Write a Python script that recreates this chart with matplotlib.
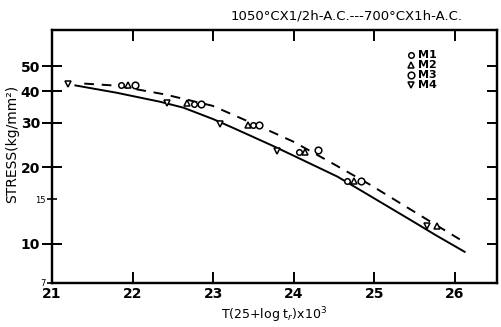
import matplotlib
matplotlib.use("Agg")
import matplotlib.pyplot as plt

# ---- data ----
m1_x = [21.86, 22.76, 23.50, 24.06, 24.66]
m1_y = [42.1, 35.6, 29.5, 23.1, 17.7]
m2_x = [21.94, 22.68, 23.43, 24.14, 24.75, 25.78]
m2_y = [42.1, 35.8, 29.5, 23.1, 17.7, 11.7]
m3_x = [22.03, 22.85, 23.57, 24.30, 24.84]
m3_y = [42.1, 35.6, 29.5, 23.4, 17.7]
m4_x = [21.20, 22.43, 23.08, 23.79, 25.65]
m4_y = [42.5, 35.9, 29.7, 23.2, 11.7]

solid_x = [21.29, 21.8, 22.34, 22.63, 23.0, 23.25, 23.73, 23.99, 24.54, 24.80, 25.50, 25.75, 26.12]
solid_y = [42.1, 39.4, 36.3, 34.4, 31.0, 28.6, 24.4, 22.3, 18.4, 16.45, 12.13, 10.86, 9.29]
dash_x = [21.4, 21.8, 22.4, 22.99, 23.62, 23.99, 24.45, 24.95, 25.65, 26.06]
dash_y = [42.8, 42.0, 38.8, 35.0, 28.6, 25.3, 21.0, 17.06, 12.47, 10.4]

x_ticks = [21, 22, 23, 24, 25, 26]
y_major = [10, 20, 30, 40, 50]
y_minor = [7, 15]

fig = plt.figure(figsize=(5.01, 3.27), dpi=100)
ax = fig.add_axes([0.1038, 0.1346, 0.888, 0.773])

ax.plot(solid_x, solid_y, color="black", lw=1.4)
ax.plot(dash_x, dash_y, color="black", lw=1.4, linestyle=(0, (5, 4)))

mk = dict(linestyle="none", mfc="white", mec="black", mew=1.1)
ax.plot(m1_x, m1_y, marker="o", ms=4, label="M1", **mk)
ax.plot(m2_x, m2_y, marker="^", ms=4.5, label="M2", **mk)
ax.plot(m3_x, m3_y, marker="o", ms=4.8, label="M3", **mk)
ax.plot(m4_x, m4_y, marker="v", ms=4.5, label="M4", **mk)

ax.set_yscale("log")
ax.set_xlim(21, 26.52)
ax.set_ylim(7, 69.5)

ax.set_xticks(x_ticks)
ax.set_xticklabels([str(t) for t in x_ticks], fontsize=10, fontweight="bold")
ax.set_yticks(y_major)
ax.set_yticklabels([str(t) for t in y_major], fontsize=10, fontweight="bold")
ax.set_yticks(y_minor, minor=True)
ax.set_yticklabels([str(t) for t in y_minor], minor=True, fontsize=6)

ax.tick_params(axis="x", which="major", direction="in", length=8, width=1.4,
               top=True, pad=3)
ax.tick_params(axis="y", which="major", direction="inout", length=15, width=1.4,
               right=False, pad=1)
ax.tick_params(axis="y", which="minor", direction="inout", length=7, width=1.2,
               right=False, pad=1)

# right-side inward ticks
axr = ax.twinx()
axr.set_yscale("log")
axr.set_ylim(ax.get_ylim())
axr.set_yticks(y_major + [15])
axr.set_yticks([], minor=True)
axr.tick_params(axis="y", direction="in", length=7, width=1.4, labelright=False)

for a in (ax, axr):
    for s in a.spines.values():
        s.set_linewidth(1.6)

ax.set_xlabel(r"T(25+log t$_r$)x10$^3$", fontsize=9, labelpad=3)
ax.set_ylabel("STRESS(kg/mm²)", fontsize=10, labelpad=2)
ax.yaxis.set_label_coords(-0.075, 0.55)

fig.text(347 / 501, 1 - 16 / 327, "1050°CX1/2h-A.C.---700°CX1h-A.C.",
         ha="center", va="center", fontsize=9.5)

ax.legend(loc="upper left", bbox_to_anchor=(0.80, 0.92), frameon=False,
          prop={"size": 8, "weight": "bold"}, handlelength=0.6,
          handletextpad=0.3, labelspacing=0.0,
          borderpad=0, borderaxespad=0)

fig.savefig("out.png", dpi=100)
